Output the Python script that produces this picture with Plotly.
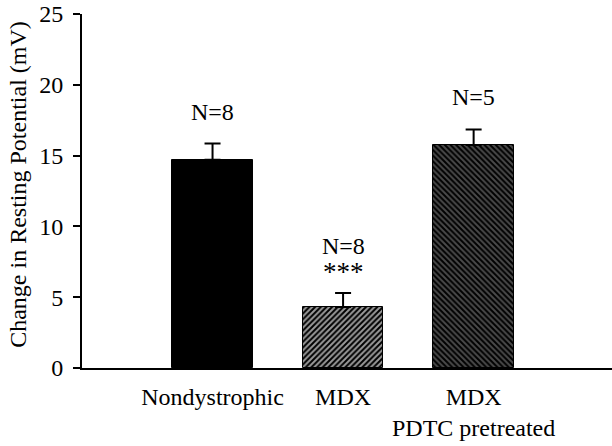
import plotly.graph_objects as go

categories = ["Nondystrophic", "MDX", "MDX<br>PDTC pretreated"]
values = [14.7, 4.3, 15.75]
errors = [1.15, 1.0, 1.1]
n_labels = ["N=8", "N=8", "N=5"]
sig_labels = ["", "***", ""]
y_title = "Change in Resting Potential (mV)"

font = "Liberation Serif, Times New Roman, serif"
x = [0, 1, 2]
fills = ["black", "#9a9a9a", "#4a4a4a"]
shapes = ["", "/", "\\"]

fig = go.Figure()
for i in range(3):
    fig.add_trace(go.Bar(
        x=[x[i]], y=[values[i]], width=0.615,
        marker=dict(
            color=fills[i],
            line=dict(color="black", width=1),
            pattern=dict(shape=shapes[i], fillmode="overlay", fgcolor="black",
                         fgopacity=1, size=4, solidity=0.5),
        ),
        error_y=dict(type="data", array=[errors[i]], arrayminus=[0], symmetric=False,
                     color="black", thickness=2, width=8),
    ))

for i in range(3):
    top = values[i] + errors[i]
    if sig_labels[i]:
        fig.add_annotation(x=x[i], y=top, yref="y", text=sig_labels[i], showarrow=False,
                           yshift=21, font=dict(family=font, size=27, color="black"))
        fig.add_annotation(x=x[i], y=top, yref="y", text=n_labels[i], showarrow=False,
                           yshift=47, font=dict(family=font, size=24, color="black"))
    else:
        fig.add_annotation(x=x[i], y=top, yref="y", text=n_labels[i], showarrow=False,
                           yshift=32, font=dict(family=font, size=24, color="black"))

fig.add_annotation(xref="paper", yref="paper", x=-0.121, y=0.52, text=y_title,
                   textangle=-90, showarrow=False, xanchor="center", yanchor="middle",
                   font=dict(family=font, size=24, color="black"))

fig.update_layout(
    width=612, height=446,
    margin=dict(l=82, r=0, t=14, b=78),
    plot_bgcolor="white", paper_bgcolor="white",
    showlegend=False, barmode="overlay",
    font=dict(family=font, size=24, color="black"),
    bargap=0,
)
fig.update_xaxes(
    range=[-1.0, 3.06], tickmode="array", tickvals=x, ticktext=categories,
    showline=True, linecolor="black", linewidth=2, ticks="", showgrid=False,
    zeroline=False, tickfont=dict(family=font, size=24), automargin=False,
    ticklabelstandoff=6,
)
fig.update_yaxes(
    range=[0, 25], tickvals=[0, 5, 10, 15, 20, 25],
    showline=True, linecolor="black", linewidth=2, ticks="outside", ticklen=7,
    tickwidth=2, tickcolor="black", showgrid=False, zeroline=False,
    tickfont=dict(family=font, size=24), automargin=False, ticklabelstandoff=5,
)

fig.write_html("out.html", config={"displayModeBar": False},
               post_script="document.body.style.margin='0';document.body.style.padding='0';")
